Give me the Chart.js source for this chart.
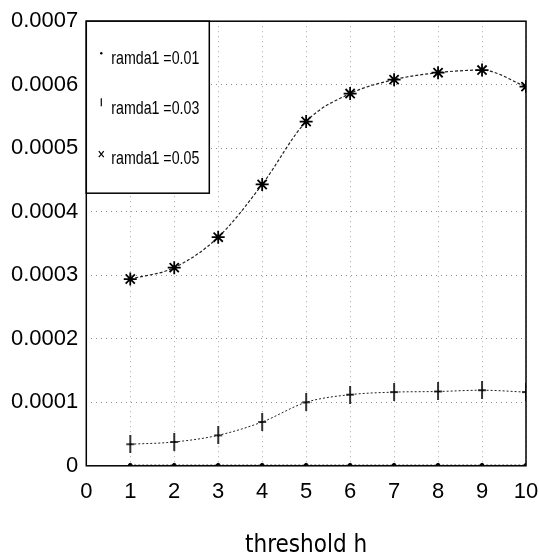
<!DOCTYPE html>
<html>
<head>
<meta charset="utf-8">
<script src="https://cdn.jsdelivr.net/npm/chart.js@4.4.0/dist/chart.umd.min.js"></script>
<style>
  html, body { margin: 0; padding: 0; background: #fff; }
  #wrap { width: 539px; height: 557px; }
</style>
</head>
<body>
<div id="wrap"><canvas id="thresholdChart" width="539" height="557"></canvas></div>
<script>
// values
var thresholds = [1, 2, 3, 4, 5, 6, 7, 8, 9, 10];
var ramda001 = [0.000001, 0.000001, 0.000001, 0.000001, 0.000001, 0.000001, 0.000001, 0.000001, 0.000001, 0.000001];
var ramda003 = [0.000034, 0.0000375, 0.000048, 0.000069, 0.0001, 0.000112, 0.000116, 0.000117, 0.000119, 0.000116];
var ramda005 = [0.000294, 0.000312, 0.00036, 0.000443, 0.000542, 0.000586, 0.000608, 0.000619, 0.000623, 0.000597];
var seriesLabels = ['ramda1 =0.01', 'ramda1 =0.03', 'ramda1 =0.05'];
var yTickLabels = ['0', '0.0001', '0.0002', '0.0003', '0.0004', '0.0005', '0.0006', '0.0007'];

var fontFamily = '"Liberation Sans", Arial, sans-serif';
var narrowFamily = '"Liberation Sans Narrow", "DejaVu Sans Condensed", "Liberation Sans", sans-serif';

function toPoints(values) {
    return thresholds.map(function (x, i) { return { x: x, y: values[i] }; });
}

// tall bar with a short cross stroke, like the scanned "+" marks
var tickMark = document.createElement('canvas');
tickMark.width = 10;
tickMark.height = 18;
(function () {
    var c = tickMark.getContext('2d');
    c.strokeStyle = '#000';
    c.lineWidth = 1.6;
    c.beginPath();
    c.moveTo(5, 0);
    c.lineTo(5, 18);
    c.moveTo(1, 9);
    c.lineTo(9, 9);
    c.stroke();
})();

// box round the plot area
var frame = {
    id: 'frame',
    afterDatasetsDraw: function (chart) {
        var a = chart.chartArea, ctx = chart.ctx;
        ctx.save();
        ctx.strokeStyle = '#000';
        ctx.lineWidth = 1.5;
        ctx.strokeRect(a.left, a.top, a.right - a.left, a.bottom - a.top);
        ctx.restore();
    }
};

// legend box in the top-left corner of the plot
var innerLegend = {
    id: 'innerLegend',
    afterDraw: function (chart) {
        var a = chart.chartArea, ctx = chart.ctx;
        var w = 123, h = 172;
        ctx.save();
        ctx.fillStyle = '#fff';
        ctx.fillRect(a.left, a.top, w, h);
        ctx.strokeStyle = '#000';
        ctx.lineWidth = 1.5;
        ctx.strokeRect(a.left, a.top, w, h);
        ctx.fillStyle = '#000';
        ctx.font = '19px ' + fontFamily;
        ctx.textBaseline = 'middle';
        chart.data.datasets.forEach(function (ds, i) {
            var y = a.top + 38 + i * 50;
            var mx = a.left + 15;
            var tw = ctx.measureText(ds.label).width;
            var sx = 88 / tw;
            ctx.save();
            ctx.translate(a.left + 25, y);
            ctx.scale(sx, 1);
            ctx.fillText(ds.label, 0, 0);
            ctx.restore();
            ctx.beginPath();
            if (i === 0) {
                ctx.arc(mx, y - 6, 1.2, 0, Math.PI * 2);
                ctx.fill();
            } else if (i === 1) {
                ctx.lineWidth = 1.2;
                ctx.moveTo(mx, y - 11);
                ctx.lineTo(mx, y - 3);
                ctx.stroke();
            } else {
                ctx.lineWidth = 1.2;
                ctx.moveTo(mx - 2.5, y - 8);
                ctx.lineTo(mx + 2.5, y - 2);
                ctx.moveTo(mx + 2.5, y - 8);
                ctx.lineTo(mx - 2.5, y - 2);
                ctx.stroke();
            }
        });
        ctx.restore();
    }
};

var ctx = document.getElementById('thresholdChart').getContext('2d');

new Chart(ctx, {
    type: 'line',
    data: {
        datasets: [
            {
                label: seriesLabels[0],
                data: toPoints(ramda001),
                borderColor: '#000',
                backgroundColor: '#000',
                borderWidth: 1,
                borderDash: [2, 2],
                pointStyle: 'circle',
                pointRadius: 1.8,
                fill: false
            },
            {
                label: seriesLabels[1],
                data: toPoints(ramda003),
                borderColor: '#222',
                backgroundColor: '#000',
                borderWidth: 1,
                borderDash: [2, 2],
                cubicInterpolationMode: 'monotone',
                pointStyle: tickMark,
                fill: false
            },
            {
                label: seriesLabels[2],
                data: toPoints(ramda005),
                borderColor: '#222',
                backgroundColor: '#000',
                borderWidth: 1.2,
                borderDash: [3, 2],
                cubicInterpolationMode: 'monotone',
                pointStyle: 'star',
                pointRadius: 6.5,
                pointBorderWidth: 1.8,
                pointBorderColor: '#000',
                fill: false
            }
        ]
    },
    options: {
        responsive: false,
        animation: false,
        layout: { padding: { left: 3, top: 8, right: 13, bottom: -3 } },
        plugins: {
            legend: { display: false },
            tooltip: { enabled: false }
        },
        scales: {
            x: {
                type: 'linear',
                min: 0,
                max: 10,
                afterFit: function (scale) {
                    // the "10" label may hang past the plot edge
                    scale.paddingRight = 0;
                },
                ticks: {
                    stepSize: 1,
                    color: '#000',
                    padding: 13,
                    maxRotation: 0,
                    font: { family: fontFamily, size: 22 }
                },
                grid: {
                    color: 'rgba(0,0,0,0.35)',
                    drawTicks: false
                },
                border: { display: false, dash: [1, 4] },
                title: {
                    display: true,
                    text: 'threshold h',
                    color: '#000',
                    font: { family: narrowFamily, size: 24 },
                    padding: { top: 13, bottom: 0 }
                }
            },
            y: {
                min: 0,
                max: 0.0007,
                ticks: {
                    stepSize: 0.0001,
                    color: '#000',
                    padding: 8,
                    font: { family: fontFamily, size: 22 },
                    callback: function (value) {
                        return yTickLabels[Math.round(value / 0.0001)];
                    }
                },
                grid: {
                    color: 'rgba(0,0,0,0.45)',
                    drawTicks: false
                },
                border: { display: false, dash: [1, 4] }
            }
        }
    },
    plugins: [frame, innerLegend]
});
</script>
</body>
</html>
